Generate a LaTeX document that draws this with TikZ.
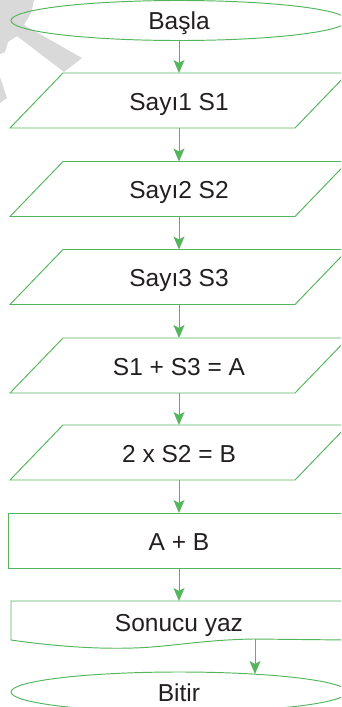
\documentclass[tikz,border=0pt]{standalone}
\usepackage{fontspec}
\setmainfont{Liberation Sans}
\usetikzlibrary{shapes.geometric,arrows.meta,calc}
\definecolor{gr}{RGB}{84,182,92}
\definecolor{wm}{RGB}{217,217,217}
\definecolor{ink}{RGB}{35,31,32}
\begin{document}
\begin{tikzpicture}[x=1pt,y=-1pt,
  shapeline/.style={draw=gr,line width=0.95pt},
  txt/.style={font=\fontsize{24.5}{28}\selectfont,text=ink,inner sep=0pt,outer sep=0pt,text height=19pt,text depth=0pt},
  parabox/.style={txt,minimum width=285pt,minimum height=55pt},
  term/.style={ellipse,shapeline,txt,text height=17.2pt,minimum width=336pt,minimum height=40pt},
  arr/.style={draw=gr,line width=1pt,-{Stealth[length=13pt,width=11pt,inset=3pt]}}
]
\useasboundingbox (0,0) rectangle (341,707);
\clip (0,0) rectangle (341,707);
\fill[white] (0,0) rectangle (341,707);
% watermark fragment
\fill[wm] (0,0) -- (34,0) -- (31,13) -- (24,25) -- (82,58) -- (64,72) -- (17,36) -- (8,42) -- (5,52) -- (0,54) -- cycle;
\fill[wm] (0,77) -- (7,98) -- (0,103) -- cycle;

% terminals
\node[term] (start) at (179,20.5) {Başla};
\node[term,text height=19pt] (stop) at (179,692) {Bitir};

% parallelograms
\node[parabox] (p1) at (179,100.5) {Sayı1 S1};
\node[parabox] (p2) at (179,189) {Sayı2 S2};
\node[parabox] (p3) at (179,277) {Sayı3 S3};
\node[parabox] (p4) at (179,365.5) {S1 + S3 = A};
\node[parabox] (p5) at (179,452.5) {2 x S2 = B};
\foreach \n in {p1,p2,p3,p4,p5}
  \draw[shapeline] ($(\n.north west)+(26.5,0)$) -- ($(\n.north east)+(26.5,0)$)
     -- ($(\n.south east)-(26.5,0)$) -- ($(\n.south west)-(26.5,0)$) -- cycle;

% process
\node[txt,shapeline,minimum width=342pt,minimum height=55pt] (proc) at (179,540.5) {A + B};

% document
\node[txt,minimum width=336pt,minimum height=39pt,text height=22pt] (doc) at (179,620.5) {Sonucu yaz};
\draw[shapeline] (doc.south east) -- (doc.north east) -- (doc.north west) -- (doc.south west)
  .. controls (60,647) and (100,649) .. (133,648)
  .. controls (170,647) and (200,640) .. (253,639) -- (doc.south east);

\coordinate (d1) at (255,639);
\coordinate (e1) at (255,674);

% connectors
\draw[arr] (start.south) -- (p1.north);
\draw[arr] (p1.south) -- (p2.north);
\draw[arr] (p2.south) -- (p3.north);
\draw[arr] (p3.south) -- (p4.north);
\draw[arr] (p4.south) -- (p5.north);
\draw[arr] (p5.south) -- (proc.north);
\draw[arr] (proc.south) -- (doc.north);
\draw[arr] (d1) -- (e1);
\end{tikzpicture}
\end{document}
